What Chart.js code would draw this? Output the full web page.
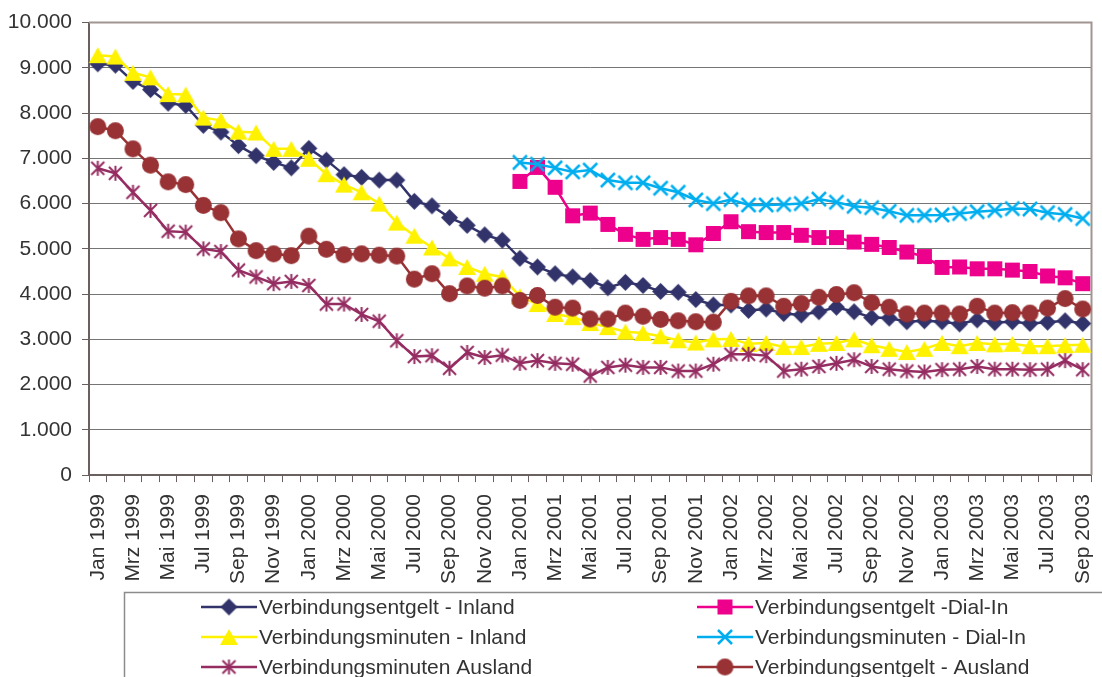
<!DOCTYPE html>
<html>
<head>
<meta charset="utf-8">
<script src="https://cdn.jsdelivr.net/npm/chart.js@4.4.1/dist/chart.umd.min.js"></script>
<style>
  html, body { margin: 0; padding: 0; background: #fff; }
  #wrap { width: 1102px; height: 677px; }
</style>
</head>
<body>
<div id="wrap"><canvas id="chart" width="1102" height="677"></canvas></div>
<script>
const monthNames = ["Jan", "Feb", "Mrz", "Apr", "Mai", "Jun", "Jul", "Aug", "Sep", "Okt", "Nov", "Dez"];
const years = [1999, 2000, 2001, 2002, 2003];
const lastMonthIn2003 = 9;

const months = [];
years.forEach((y) => {
  monthNames.forEach((m, i) => {
    if (y < 2003 || i < lastMonthIn2003) months.push(m + " " + y);
  });
});

const yTicks = [0, 1000, 2000, 3000, 4000, 5000, 6000, 7000, 8000, 9000, 10000];

// Verbindungsentgelt - Inland
const entgeltInland = [9090, 9060, 8700, 8520, 8220, 8170, 7730, 7580, 7280, 7060, 6910, 6790,
  7220, 6960, 6640, 6580, 6520, 6520, 6050, 5950, 5690, 5520, 5310, 5190,
  4790, 4600, 4450, 4380, 4300, 4140, 4260, 4190, 4060, 4040, 3880, 3760,
  3760, 3640, 3670, 3570, 3540, 3610, 3710, 3610, 3480, 3470, 3390, 3410,
  3390, 3340, 3430, 3370, 3390, 3350, 3380, 3410, 3350];

// Verbindungsentgelt -Dial-In (ab Jan 2001)
const entgeltDialIn = [null, null, null, null, null, null, null, null, null, null, null, null,
  null, null, null, null, null, null, null, null, null, null, null, null,
  6490, 6800, 6360, 5730, 5790, 5540, 5320, 5210, 5250, 5210, 5090, 5340,
  5600, 5380, 5360, 5360, 5300, 5250, 5250, 5150, 5100, 5030, 4930, 4830,
  4590, 4600, 4560, 4560, 4530, 4500, 4400, 4360, 4230];

// Verbindungsminuten - Inland
const minutenInland = [9280, 9250, 8890, 8790, 8420, 8410, 7900, 7840, 7590, 7570, 7210, 7210,
  6990, 6650, 6420, 6250, 6000, 5580, 5290, 5030, 4790, 4600, 4450, 4380,
  3950, 3780, 3560, 3490, 3360, 3270, 3170, 3140, 3070, 2980, 2930, 3000,
  3010, 2900, 2920, 2830, 2830, 2900, 2920, 3000, 2870, 2790, 2720, 2790,
  2920, 2850, 2920, 2890, 2900, 2850, 2850, 2870, 2880];

// Verbindungsminuten - Dial-In (ab Jan 2001)
const minutenDialIn = [null, null, null, null, null, null, null, null, null, null, null, null,
  null, null, null, null, null, null, null, null, null, null, null, null,
  6910, 6870, 6790, 6700, 6740, 6520, 6460, 6460, 6340, 6250, 6080, 6000,
  6090, 5970, 5970, 5980, 6000, 6100, 6030, 5940, 5910, 5830, 5740, 5740,
  5750, 5780, 5820, 5850, 5890, 5880, 5800, 5760, 5670];

// Verbindungsminuten Ausland
const minutenAusland = [6780, 6670, 6250, 5850, 5390, 5370, 5000, 4940, 4530, 4380, 4230, 4280,
  4190, 3780, 3780, 3550, 3400, 2970, 2620, 2640, 2360, 2710, 2600, 2650,
  2470, 2530, 2470, 2450, 2190, 2380, 2430, 2380, 2380, 2300, 2300, 2450,
  2670, 2670, 2640, 2300, 2340, 2400, 2470, 2550, 2400, 2340, 2300, 2280,
  2330, 2340, 2400, 2340, 2340, 2330, 2340, 2530, 2330];

// Verbindungsentgelt - Ausland
const entgeltAusland = [7700, 7610, 7210, 6850, 6480, 6420, 5960, 5800, 5220, 4960, 4890, 4850,
  5280, 4990, 4870, 4890, 4860, 4840, 4330, 4450, 4010, 4180, 4130, 4180,
  3860, 3970, 3710, 3690, 3450, 3450, 3580, 3510, 3440, 3410, 3390, 3380,
  3840, 3960, 3960, 3730, 3790, 3930, 3990, 4030, 3810, 3710, 3560, 3580,
  3580, 3560, 3730, 3580, 3590, 3580, 3690, 3900, 3670];

const FONT = "'Liberation Sans', Arial, sans-serif";
const TEXT = "#333333";

function marker(kind, color, size) {
  const s = Math.ceil(size) + 4;
  const c = document.createElement("canvas");
  c.width = s; c.height = s;
  const g = c.getContext("2d");
  const m = s / 2, r = size / 2;
  g.fillStyle = color;
  g.strokeStyle = color;
  g.beginPath();
  if (kind === "diamond") {
    g.moveTo(m, m - r); g.lineTo(m + r, m); g.lineTo(m, m + r); g.lineTo(m - r, m);
    g.closePath(); g.fill();
  } else if (kind === "square") {
    g.fillRect(m - r, m - r, size, size);
  } else if (kind === "triangle") {
    const h = size * 0.9;
    g.moveTo(m, m - h / 2); g.lineTo(m + r, m + h / 2); g.lineTo(m - r, m + h / 2);
    g.closePath(); g.fill();
  } else if (kind === "circle") {
    g.arc(m, m, r, 0, Math.PI * 2); g.fill();
  } else if (kind === "x") {
    g.lineWidth = 2.5;
    g.moveTo(m - r, m - r); g.lineTo(m + r, m + r);
    g.moveTo(m + r, m - r); g.lineTo(m - r, m + r);
    g.stroke();
  } else if (kind === "star") {
    g.lineWidth = 2;
    g.moveTo(m - r, m - r); g.lineTo(m + r, m + r);
    g.moveTo(m + r, m - r); g.lineTo(m - r, m + r);
    g.moveTo(m, m - r - 1); g.lineTo(m, m + r + 1);
    g.stroke();
  }
  return c;
}

function series(label, data, color, kind, size, z) {
  return {
    label, data,
    borderColor: color,
    backgroundColor: color,
    borderWidth: 2.5,
    pointStyle: marker(kind, color, size),
    pointRadius: 8,
    tension: 0,
    fill: false,
    spanGaps: false,
    order: z
  };
}

const datasets = [
  series("Verbindungsentgelt - Inland", entgeltInland, "#31336a", "diamond", 17, 5),
  series("Verbindungsentgelt -Dial-In", entgeltDialIn, "#ec008c", "square", 15, 4),
  series("Verbindungsminuten - Inland", minutenInland, "#fff200", "triangle", 18, 3),
  series("Verbindungsminuten - Dial-In", minutenDialIn, "#00aeef", "x", 14, 2),
  series("Verbindungsminuten Ausland", minutenAusland, "#952d62", "star", 13, 1),
  series("Verbindungsentgelt - Ausland", entgeltAusland, "#983234", "circle", 17, 0)
];

const frame = {
  id: "frame",
  beforeDatasetsDraw(chart) {
    const { ctx, chartArea: a } = chart;
    ctx.save();
    ctx.strokeStyle = "#a0958f";
    ctx.lineWidth = 2;
    ctx.beginPath();
    ctx.moveTo(a.left, a.top);
    ctx.lineTo(a.right, a.top);
    ctx.lineTo(a.right, a.bottom);
    ctx.stroke();
    ctx.restore();
  }
};

const legendBox = {
  id: "legendBox",
  afterDraw(chart) {
    const ctx = chart.ctx;
    ctx.save();
    ctx.strokeStyle = "#8c8c8c";
    ctx.lineWidth = 1.5;
    ctx.strokeRect(124.5, 592.5, 1100, 200);
    const cols = [201, 697];
    const rows = [607, 637, 667];
    ctx.font = "21px " + FONT;
    ctx.fillStyle = TEXT;
    ctx.textBaseline = "middle";
    chart.data.datasets.forEach((ds, i) => {
      const x = cols[i % 2], y = rows[Math.floor(i / 2)];
      ctx.strokeStyle = ds.borderColor;
      ctx.lineWidth = 2.5;
      ctx.beginPath();
      ctx.moveTo(x, y); ctx.lineTo(x + 56, y);
      ctx.stroke();
      const img = ds.pointStyle;
      ctx.drawImage(img, x + 28 - img.width / 2, y - img.height / 2);
      ctx.fillStyle = TEXT;
      ctx.fillText(ds.label, x + 58, y + 1);
    });
    ctx.restore();
  }
};

const fmt = (v) => String(v).replace(/\B(?=(\d{3})+(?!\d))/g, ".");

new Chart(document.getElementById("chart"), {
  type: "line",
  data: { labels: months, datasets },
  plugins: [frame, legendBox],
  options: {
    responsive: false,
    animation: false,
    events: [],
    layout: { padding: { left: 7, right: 7, top: 21, bottom: 81 } },
    plugins: { legend: { display: false }, tooltip: { enabled: false } },
    scales: {
      x: {
        offset: true,
        afterFit: (s) => { s.paddingLeft = 0; s.paddingRight = 0; },
        grid: { display: true, drawOnChartArea: false, offset: true, tickLength: 7, tickColor: "#6a6060", lineWidth: 1 },
        border: { color: "#6a6060", width: 2 },
        ticks: {
          autoSkip: false, maxRotation: 90, minRotation: 90, padding: 12,
          color: TEXT, font: { family: FONT, size: 21 },
          callback: function (v, i) { return i % 2 === 0 ? this.getLabelForValue(v) : ""; }
        }
      },
      y: {
        min: yTicks[0], max: yTicks[yTicks.length - 1],
        afterBuildTicks: (scale) => { scale.ticks = yTicks.map((v) => ({ value: v })); },
        afterFit: (s) => { s.width = 82; },
        grid: { color: "#757575", lineWidth: 1, tickLength: 7, tickColor: "#6a6060" },
        border: { color: "#6a6060", width: 2 },
        ticks: { padding: 10, color: TEXT, font: { family: FONT, size: 21 }, callback: (v) => fmt(v) }
      }
    }
  }
});
</script>
</body>
</html>
